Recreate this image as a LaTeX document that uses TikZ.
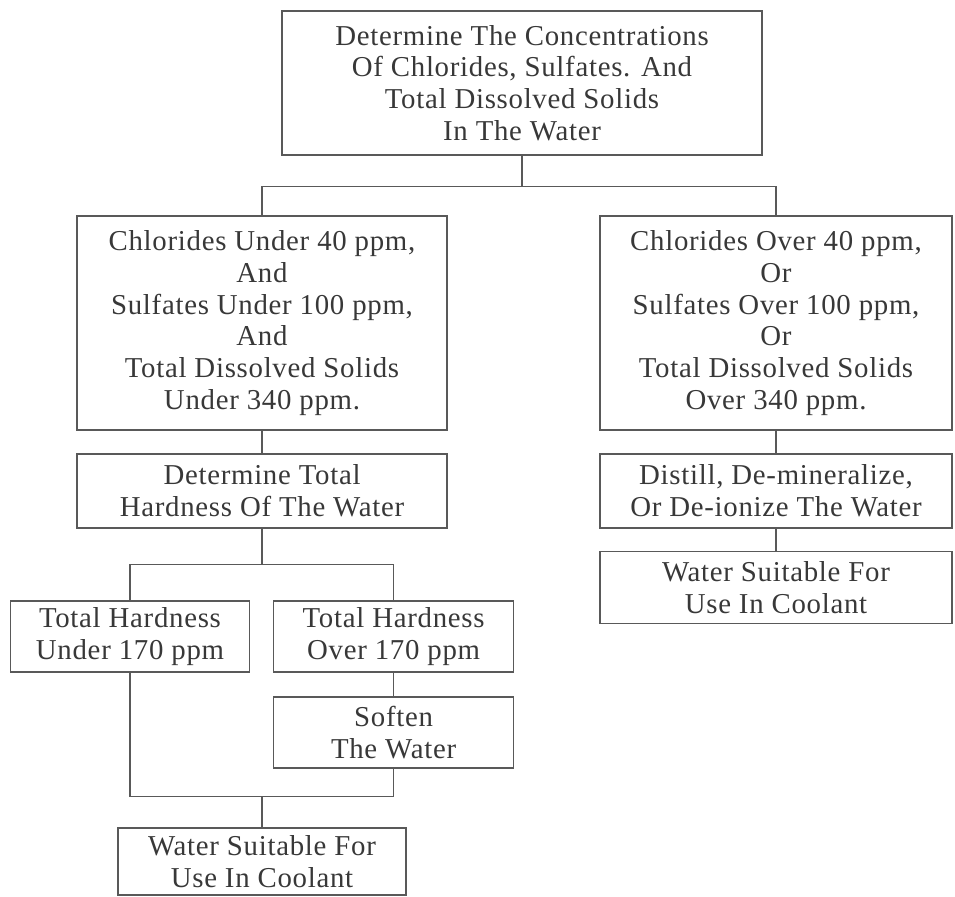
\documentclass[tikz,border=0pt]{standalone}
\usepackage{fontspec}
\setmainfont{Liberation Serif}[LetterSpace=2.5]
\usepackage{tikz}
\usetikzlibrary{arrows}

\begin{document}
\begin{tikzpicture}[
		flowbox/.style={rectangle,draw=black!65,line width=0.9pt,text=black!78,align=center,
		inner sep=0pt,font=\fontsize{20.5pt}{22.5pt}\selectfont},
		link/.style={draw=black!65,line width=0.9pt}
		]
		\useasboundingbox (0,0) rectangle (23.875,-22.4);
		
		\node[flowbox, minimum width=12cm, minimum height=3.6cm](B0) at (13.05,-2.075)
		{Determine The Concentrations\\Of Chlorides, Sulfates. And\\Total Dissolved Solids\\In The Water};
		\draw[link] (B0.south) -- ++(0,-0.775) coordinate (J0);
		\node[flowbox, minimum width=9.25cm, minimum height=5.35cm, below of = B0,
		xshift = -6.5cm, yshift = -5cm](B1)
		{Chlorides Under 40 ppm,\\And\\Sulfates Under 100 ppm,\\And\\Total Dissolved Solids\\Under 340 ppm.};
		\node[flowbox, minimum width=8.8cm, minimum height=5.35cm, right of = B1,
		xshift = 11.85cm](B2)
		{Chlorides Over 40 ppm,\\Or\\Sulfates Over 100 ppm,\\Or\\Total Dissolved Solids\\Over 340 ppm.};
		\draw[link] (B1.north) |- (J0) -| (B2.north);
		\node[flowbox, minimum width=9.25cm, minimum height=1.85cm, below of = B1,
		yshift = -3.2cm](B3){Determine Total\\Hardness Of The Water};
		\draw[link] (B1) -- (B3);
		\node[flowbox, minimum width=8.8cm, minimum height=1.85cm, below of = B2,
		yshift = -3.2cm](B4){Distill, De-mineralize,\\Or De-ionize The Water};
		\draw[link] (B2) -- (B4);
		\node[flowbox, minimum width=8.8cm, minimum height=1.8cm, below of = B4,
		yshift = -1.41cm](B5){Water Suitable For\\Use In Coolant};
		\draw[link] (B4) -- (B5);
		\draw[link] (B3.south) -- ++(0,-0.9) coordinate (J1);
		\node[flowbox, minimum width=5.975cm, minimum height=1.775cm, below of = B3,
		xshift = -3.3cm, yshift = -2.64cm](B6){Total Hardness\\Under 170 ppm};
		\node[flowbox, minimum width=6cm, minimum height=1.775cm, right of = B6,
		xshift = 5.59cm](B7){Total Hardness\\Over 170 ppm};
		\draw[link] (B6.north) |- (J1) -| (B7.north);
		\node[flowbox, minimum width=6cm, minimum height=1.775cm, below of = B7,
		yshift = -1.4cm](B8){Soften\\The Water};
		\draw[link] (B7) -- (B8);
		\node[flowbox, minimum width=7.2cm, minimum height=1.675cm, below of = B3,
		yshift = -8.26cm](B9){Water Suitable For\\Use In Coolant};
		\draw[link] (B9.north) -- ++(0,0.775) coordinate (J2);
		\draw[link] (B6.south) |- (J2) -| (B8.south);
	\end{tikzpicture}
\end{document}
